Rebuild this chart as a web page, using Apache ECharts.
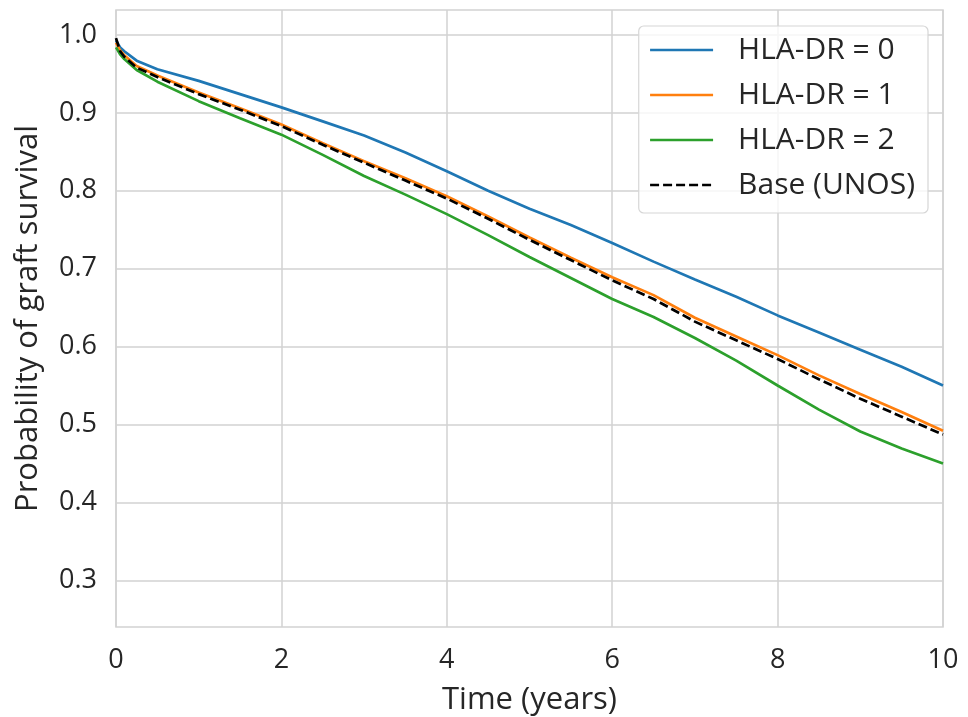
<!DOCTYPE html>
<html>
<head>
<meta charset="utf-8">
<script src="https://cdn.jsdelivr.net/npm/echarts@6/dist/echarts.min.js"></script>
<style>
  html, body { margin: 0; padding: 0; background: #ffffff; }
  #chart { width: 968px; height: 717px; }
</style>
</head>
<body>
<div id="chart"></div>
<script>
// Time points (years)
const years = [0, 0.05, 0.1, 0.25, 0.5, 1, 1.5, 2, 2.5, 3, 3.5, 4, 4.5, 5, 5.5, 6, 6.5, 7, 7.5, 8, 8.5, 9, 9.5, 10];

// Graft survival probability by number of HLA-DR mismatches
const dr0 = [0.993, 0.984, 0.979, 0.967, 0.956, 0.941, 0.924, 0.907, 0.889, 0.871, 0.849, 0.825, 0.800, 0.777, 0.756, 0.733, 0.709, 0.686, 0.664, 0.640, 0.618, 0.596, 0.574, 0.550];
const dr1 = [0.990, 0.980, 0.974, 0.960, 0.948, 0.926, 0.906, 0.885, 0.861, 0.838, 0.816, 0.793, 0.767, 0.740, 0.714, 0.689, 0.666, 0.637, 0.613, 0.589, 0.563, 0.539, 0.516, 0.492];
const dr2 = [0.984, 0.975, 0.969, 0.955, 0.940, 0.915, 0.893, 0.872, 0.846, 0.819, 0.795, 0.770, 0.743, 0.715, 0.688, 0.661, 0.638, 0.611, 0.582, 0.550, 0.519, 0.491, 0.469, 0.450];
const base = [0.996, 0.979, 0.972, 0.958, 0.946, 0.924, 0.904, 0.883, 0.859, 0.836, 0.813, 0.790, 0.764, 0.737, 0.711, 0.685, 0.661, 0.632, 0.608, 0.584, 0.558, 0.533, 0.510, 0.487];

// Axis ticks
const xTicks = [0, 2, 4, 6, 8, 10];
const yTicks = [0.3, 0.4, 0.5, 0.6, 0.7, 0.8, 0.9, 1.0];

const names = ['HLA-DR = 0', 'HLA-DR = 1', 'HLA-DR = 2', 'Base (UNOS)'];
const colors = ['#1f77b4', '#ff7f0e', '#2ca02c', '#000000'];

const pair = arr => years.map((t, i) => [t, arr[i]]);

const font = '"Open Sans", "Noto Sans", sans-serif';
const textColor = '#262626';
const gridColor = '#d2d2d2';
const lineWidth = 2.7;

const chart = echarts.init(document.getElementById('chart'), null, { renderer: 'canvas' });

function lineSeries(name, arr, color, dashed, z) {
  return {
    name: name,
    type: 'line',
    data: pair(arr),
    showSymbol: false,
    symbol: 'none',
    smooth: false,
    z: z,
    lineStyle: {
      color: color,
      width: lineWidth,
      type: dashed ? [9, 4] : 'solid'
    },
    itemStyle: { color: color },
    emphasis: { disabled: true }
  };
}

chart.setOption({
  backgroundColor: '#ffffff',
  animation: false,
  grid: {
    left: 116,
    right: 25,
    top: 10,
    bottom: 90,
    outerBoundsMode: 'none',
    show: true,
    borderColor: gridColor,
    borderWidth: 1.5,
    backgroundColor: '#ffffff'
  },
  legend: {
    data: names,
    orient: 'vertical',
    right: 40,
    top: 26,
    padding: [7, 13, 11, 10],
    itemWidth: 63,
    itemHeight: 20,
    itemGap: 11,
    backgroundColor: 'rgba(255,255,255,0.8)',
    borderColor: '#d6d6d6',
    borderWidth: 1.2,
    borderRadius: 5,
    // only the line part of each key is drawn
    itemStyle: { opacity: 0 },
    lineStyle: { width: lineWidth },
    textStyle: {
      fontFamily: font,
      fontSize: 30,
      color: textColor,
      lineHeight: 34,
      padding: [0, 0, 0, 20]
    }
  },
  xAxis: {
    type: 'value',
    min: 0,
    max: 10,
    interval: 2,
    name: 'Time (years)',
    nameLocation: 'middle',
    nameGap: 58,
    nameTextStyle: { fontFamily: font, fontSize: 31, color: textColor },
    axisLine: { show: false },
    axisTick: { show: false },
    axisLabel: {
      fontFamily: font,
      fontSize: 27,
      color: textColor,
      margin: 20,
      customValues: xTicks
    },
    splitLine: { show: true, lineStyle: { color: gridColor, width: 1.5 } }
  },
  yAxis: {
    type: 'value',
    min: 0.24,
    max: 1.032,
    name: 'Probability of graft survival',
    nameLocation: 'middle',
    nameGap: 72,
    nameTextStyle: { fontFamily: font, fontSize: 31, color: textColor },
    axisLine: { show: false },
    axisTick: { show: false, customValues: yTicks },
    axisLabel: {
      fontFamily: font,
      fontSize: 27,
      color: textColor,
      margin: 19,
      customValues: yTicks,
      formatter: v => v.toFixed(1)
    },
    splitLine: { show: true, lineStyle: { color: gridColor, width: 1.5 } }
  },
  series: [
    lineSeries(names[0], dr0, colors[0], false, 2),
    lineSeries(names[1], dr1, colors[1], false, 3),
    lineSeries(names[2], dr2, colors[2], false, 4),
    lineSeries(names[3], base, colors[3], true, 5)
  ]
});
</script>
</body>
</html>
